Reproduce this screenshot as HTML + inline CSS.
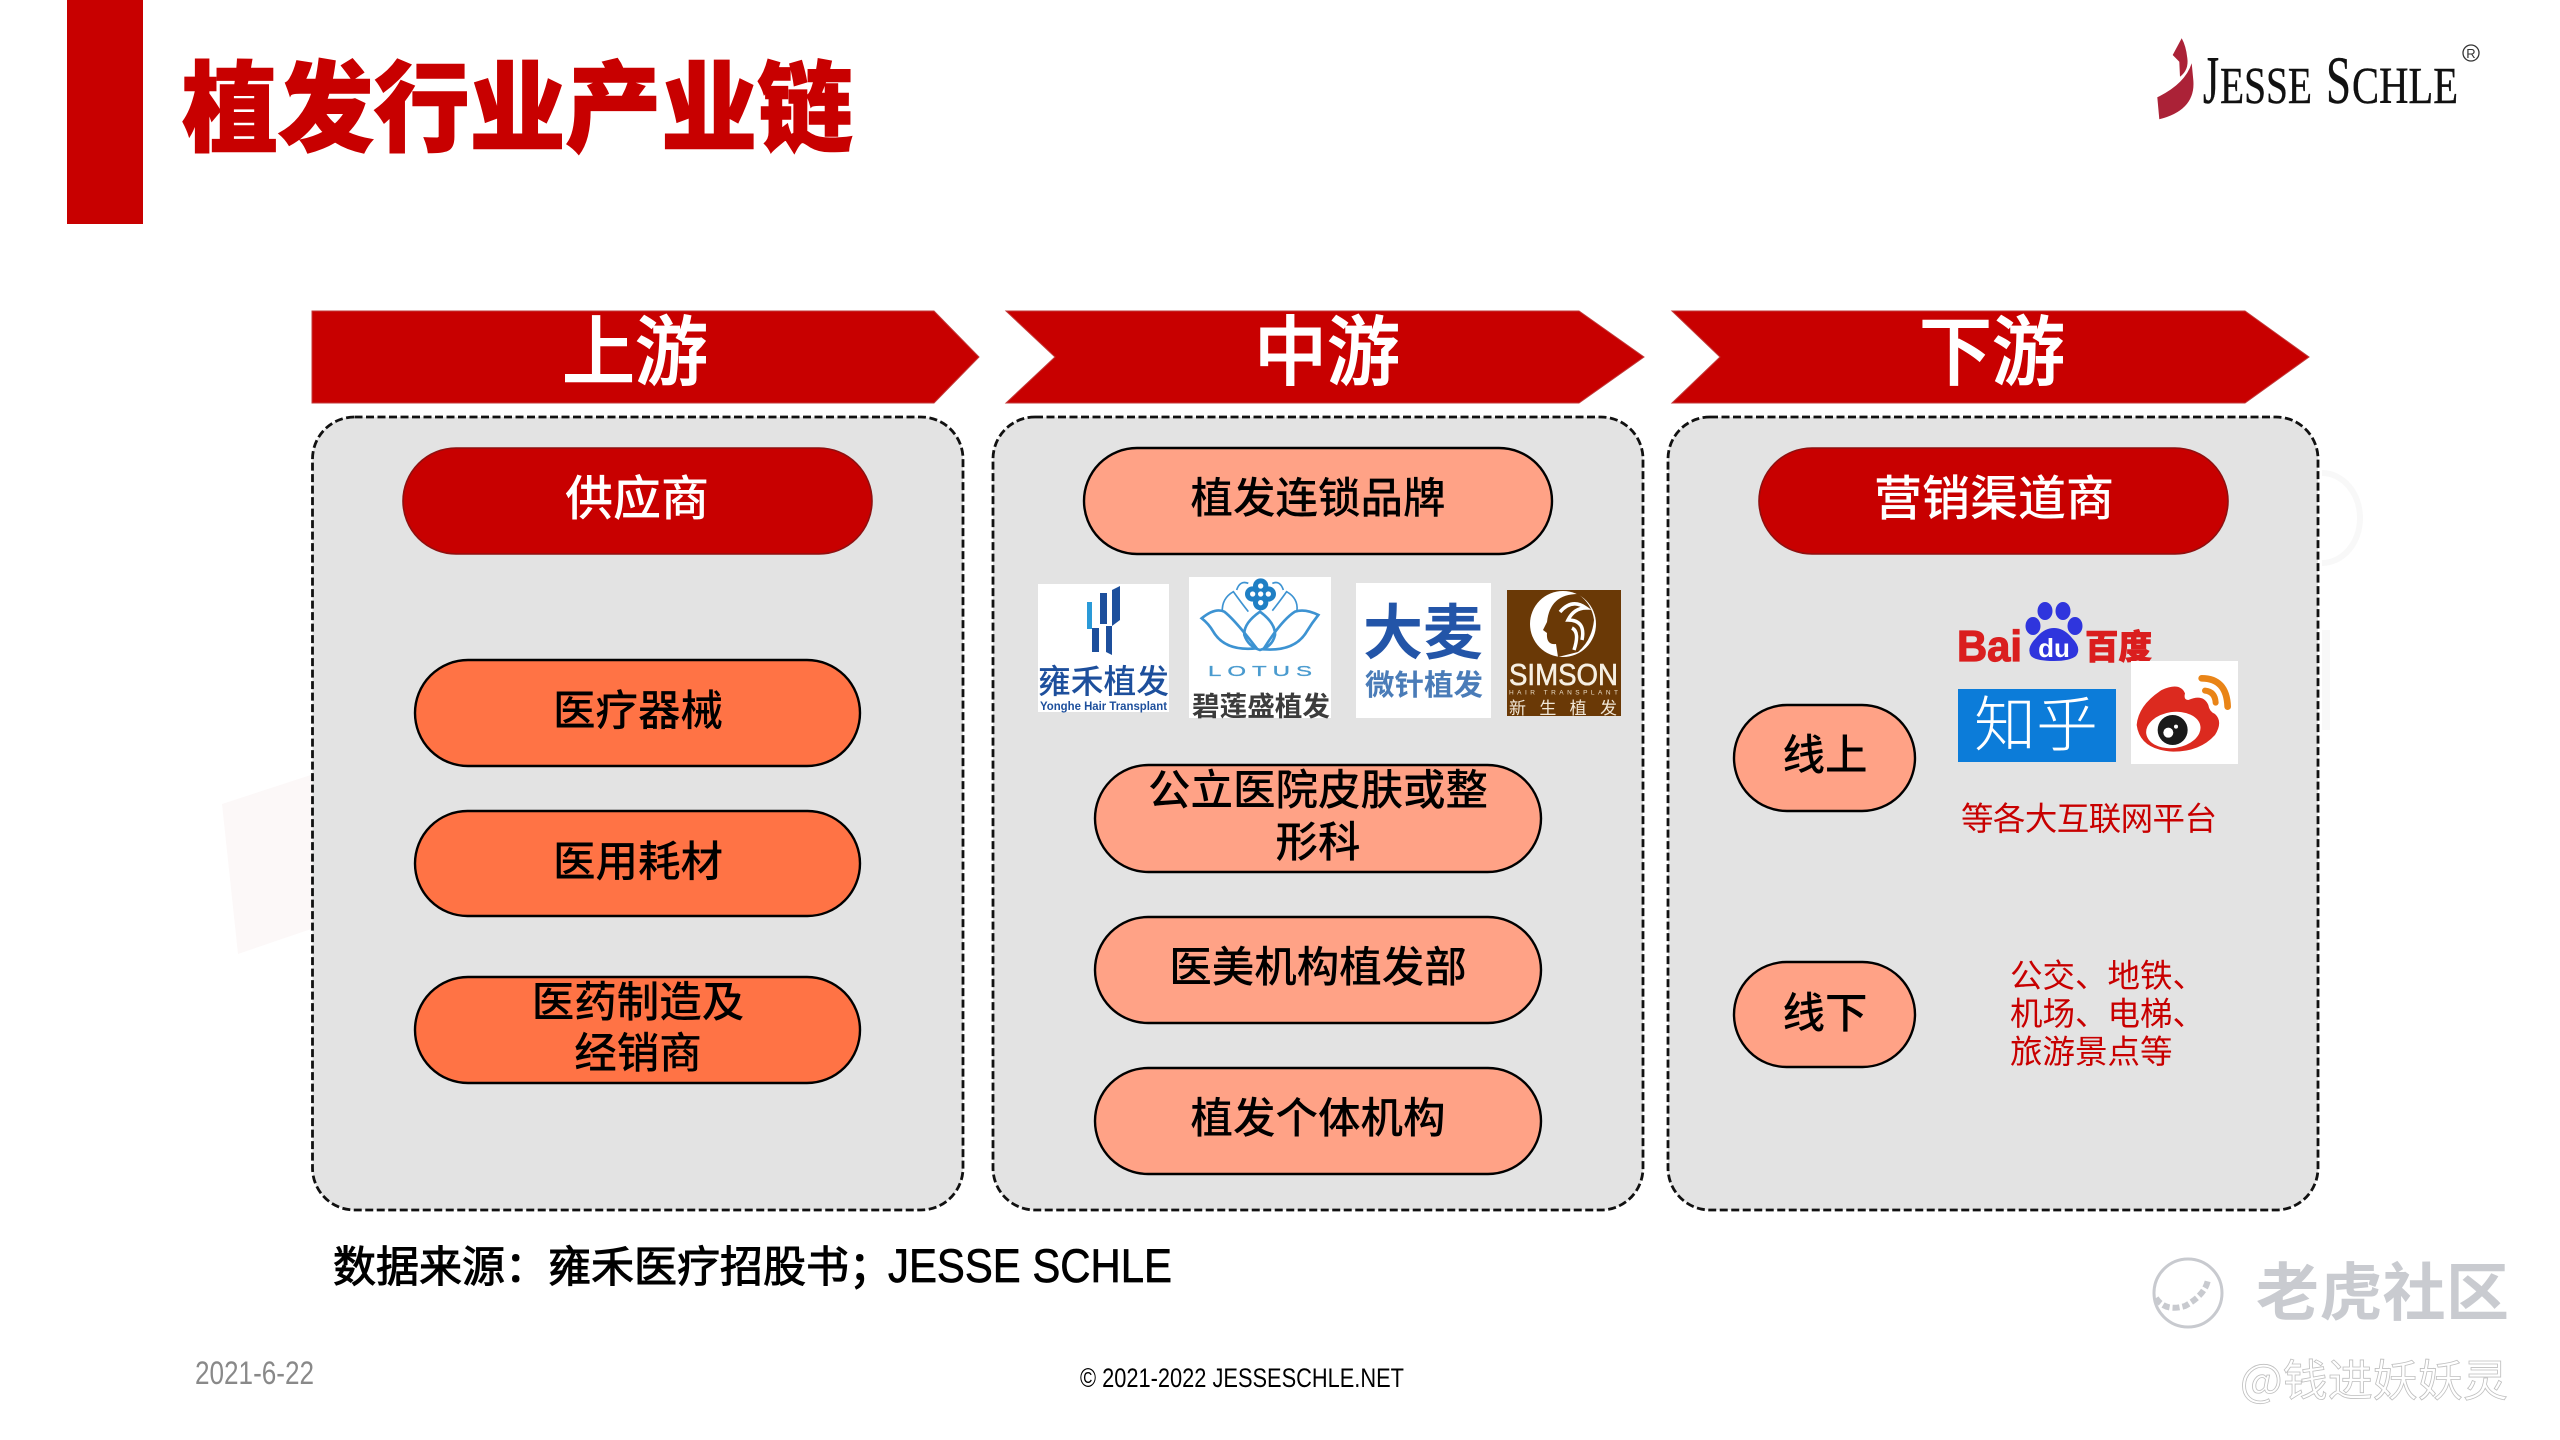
<!DOCTYPE html>
<html><head><meta charset="utf-8"><style>
html,body{margin:0;padding:0;background:#fff;width:2560px;height:1440px;overflow:hidden}
svg{display:block;font-family:"Liberation Sans","Noto Sans CJK SC",sans-serif}
.cj{font-family:"Noto Sans CJK SC",sans-serif}
.m{text-anchor:middle}
</style></head><body>
<svg width="2560" height="1440" viewBox="0 0 2560 1440" xmlns="http://www.w3.org/2000/svg">
<rect width="2560" height="1440" fill="#fff"/>
<!-- faint background -->
<polygon points="222,804 320,772 320,926 238,954" fill="#fcf8f8"/>
<path d="M2322 473a38 45 0 0 1 0 90" fill="none" stroke="#f8f8f8" stroke-width="6"/>
<rect x="2322" y="630" width="8" height="100" fill="#f8f8f8"/>
<!-- header -->
<rect x="67" y="0" width="76" height="224" fill="#c80000"/>
<text class="cj" x="182" y="143" font-size="98" font-weight="900" fill="#c80000" stroke="#c80000" stroke-width="1.500" textLength="671" lengthAdjust="spacingAndGlyphs">植发行业产业链</text>
<!-- logo -->
<g fill="#ab2237">
<path d="M2181.700 38.300L2172.700 55L2179.300 61.700L2180 76.700Q2189 70 2187.300 58Q2186 46 2181.700 38.300Z"/>
<path d="M2191.700 63.300Q2185 84 2157.300 97.300L2159.300 119.300Q2196 110 2193.300 80Z"/>
</g>
<g fill="#111" font-family="Liberation Serif" stroke="#111" stroke-width=".4">
<text x="2203" y="103" font-size="68" textLength="16" lengthAdjust="spacingAndGlyphs">J</text>
<text x="2220" y="103" font-size="52" textLength="92" lengthAdjust="spacingAndGlyphs">ESSE</text>
<text x="2326" y="103" font-size="68" textLength="25" lengthAdjust="spacingAndGlyphs">S</text>
<text x="2352" y="103" font-size="52" textLength="106" lengthAdjust="spacingAndGlyphs">CHLE</text>
</g>
<circle cx="2471" cy="53" r="8" fill="none" stroke="#333" stroke-width="1.300"/>
<text x="2471" y="58" class="m" font-size="13" fill="#333">R</text>
<!-- arrows -->
<g fill="#c80000" stroke="#c23a3a" stroke-width="1">
<polygon points="312,311 934,311 979,357 934,403 312,403"/>
<polygon points="1006,311 1579,311 1644,357 1579,403 1006,403 1055,357"/>
<polygon points="1672,311 2245,311 2309,357 2245,403 1672,403 1720,357"/>
</g>
<g class="cj" font-size="76" fill="#fff" font-weight="500" stroke="#fff" stroke-width="1">
<text class="m" x="635" y="379" textLength="146" lengthAdjust="spacingAndGlyphs">上游</text>
<text class="m" x="1327" y="379" textLength="146" lengthAdjust="spacingAndGlyphs">中游</text>
<text class="m" x="1992" y="379" textLength="146" lengthAdjust="spacingAndGlyphs">下游</text>
</g>
<!-- panels -->
<g fill="#e3e3e3" stroke="#111" stroke-width="2.800" stroke-dasharray="8 3.500">
<rect x="312.500" y="417" width="650.500" height="793" rx="42"/>
<rect x="993" y="417" width="650" height="793" rx="42"/>
<rect x="1668" y="417" width="650" height="793" rx="42"/>
</g>
<!-- pills -->
<g fill="#c80000" stroke="#8f1010" stroke-width="1.600">
<rect x="403" y="448" width="469" height="106" rx="53"/>
<rect x="1759" y="448" width="469" height="106" rx="53"/>
</g>
<g fill="#ff7345" stroke="#000" stroke-width="2.400">
<rect x="415" y="660" width="445" height="106" rx="53"/>
<rect x="415" y="811" width="445" height="105" rx="52.500"/>
<rect x="415" y="977" width="445" height="106" rx="53"/>
</g>
<g fill="#ffa286" stroke="#000" stroke-width="2.400">
<rect x="1084" y="448" width="468" height="106" rx="53"/>
<rect x="1095" y="765" width="446" height="107" rx="53.500"/>
<rect x="1095" y="917" width="446" height="106" rx="53"/>
<rect x="1095" y="1068" width="446" height="106" rx="53"/>
<rect x="1734" y="705" width="181" height="106" rx="53"/>
<rect x="1734" y="962" width="181" height="105" rx="52.500"/>
</g>
<!-- pill text -->
<g class="cj" fill="#fff" font-size="48" font-weight="500">
<text class="m" x="637" y="515">供应商</text>
<text class="m" x="1994" y="515">营销渠道商</text>
</g>
<g class="cj" fill="#000" font-size="42.500" font-weight="500">
<text class="m" x="638" y="725.500">医疗器械</text>
<text class="m" x="638" y="876.500">医用耗材</text>
<text class="m" x="638" y="1017">医药制造及</text>
<text class="m" x="638" y="1068">经销商</text>
<text class="m" x="1318" y="513">植发连锁品牌</text>
<text class="m" x="1318" y="805">公立医院皮肤或整</text>
<text class="m" x="1318" y="857">形科</text>
<text class="m" x="1318" y="982">医美机构植发部</text>
<text class="m" x="1318" y="1133">植发个体机构</text>
<text class="m" x="1825" y="770">线上</text>
<text class="m" x="1825" y="1028">线下</text>
</g>
<!-- Yonghe -->
<rect x="1038" y="584" width="131" height="128" fill="#fff"/>
<rect x="1087" y="602" width="5" height="27" fill="#2a9ad8"/>
<rect x="1100" y="593" width="7" height="31" fill="#1d4f9c"/>
<polygon points="1112,590 1120,586 1120,620 1112,626" fill="#1d4f9c"/>
<rect x="1092" y="628" width="7" height="24" fill="#1d4f9c"/>
<polygon points="1106,626 1112,626 1112,655 1106,652" fill="#1d4f9c"/>
<text class="cj" x="1038" y="693" font-size="33" font-weight="500" fill="#1d4f9c" textLength="131" lengthAdjust="spacingAndGlyphs">雍禾植发</text>
<text x="1040" y="710" font-size="11.500" font-weight="bold" fill="#1d4f9c" textLength="127" lengthAdjust="spacingAndGlyphs">Yonghe Hair Transplant</text>
<!-- Lotus -->
<rect x="1189" y="577" width="142" height="141" fill="#fff"/>
<g transform="translate(1185,570) scale(.3333)">
<g fill="none" stroke="#3d93d2" stroke-width="5">
<path d="M50 145Q90 112 118 125Q150 150 215 235Q120 245 85 185Q70 160 50 145Z" stroke-width="8"/>
<path d="M400 135Q360 115 330 125Q290 150 235 238Q330 245 365 185Q380 160 400 135Z" stroke-width="8"/>
<path d="M225 125Q175 160 178 195Q190 230 225 240Q262 230 270 195Q272 160 225 125Z" stroke-width="8"/>
<path d="M112 125Q110 85 145 65Q170 100 190 125"/>
<path d="M336 122Q340 85 305 65Q280 100 262 122"/>
<path d="M155 60Q165 30 190 40M295 60Q285 30 262 40"/>
</g>
<circle cx="203" cy="72" r="23" fill="#1f7fc4"/><circle cx="250" cy="72" r="23" fill="#1f7fc4"/>
<circle cx="227" cy="48" r="23" fill="#1f7fc4"/><circle cx="227" cy="98" r="23" fill="#1f7fc4"/>
<g fill="#fff"><circle cx="203" cy="72" r="8"/><circle cx="250" cy="72" r="8"/><circle cx="227" cy="48" r="8"/><circle cx="227" cy="98" r="8"/><circle cx="227" cy="72" r="8"/></g>
</g>
<g font-size="15" fill="#4a9bcf" stroke="#4a9bcf" stroke-width=".3">
<text transform="translate(1208,676) scale(1.6,1)" x="0" y="0" textLength="65" lengthAdjust="spacing">LOTUS</text>
</g>
<text class="cj" x="1192" y="716" font-size="27" font-weight="700" fill="#3c3c3c" textLength="138" lengthAdjust="spacingAndGlyphs">碧莲盛植发</text>
<!-- Damai -->
<rect x="1356" y="583" width="135" height="135" fill="#fff"/>
<text class="cj" x="1363" y="654" font-size="60" font-weight="700" fill="#2355a8" textLength="120" lengthAdjust="spacingAndGlyphs">大麦</text>
<text class="cj" x="1365" y="695" font-size="29" font-weight="700" fill="#4a7cb8" textLength="118" lengthAdjust="spacingAndGlyphs">微针植发</text>
<!-- Simson -->
<rect x="1507" y="590" width="114" height="126" fill="#6a3906"/>
<ellipse cx="1563" cy="624" rx="33" ry="33" fill="#fff"/>
<path d="M1578 594Q1550 594 1547 622L1543 630L1547 633Q1546 645 1556 644L1558 657L1578 652Q1592 640 1594 620Q1592 604 1578 594Z" fill="#6a3906"/>
<path d="M1560 612Q1572 598 1586 608Q1574 608 1568 620Q1586 620 1582 640M1572 628Q1580 632 1574 650" fill="none" stroke="#fff" stroke-width="3.500"/>
<text x="1509" y="685" font-size="31" fill="#f6efe2" stroke="#f6efe2" stroke-width=".6" textLength="109" lengthAdjust="spacingAndGlyphs">SIMSON</text>
<text x="1509" y="694.500" font-size="6.500" fill="#e9dcc7" textLength="109" lengthAdjust="spacing">HAIR TRANSPLANT</text>
<text class="cj" x="1509" y="714" font-size="17" fill="#f1e8d8" textLength="108" lengthAdjust="spacing">新生植发</text>
<!-- Baidu -->
<text x="1957" y="661" font-size="44" font-weight="bold" fill="#da1e1e" stroke="#da1e1e" stroke-width="1.200" textLength="65" lengthAdjust="spacingAndGlyphs">Bai</text>
<g fill="#2f35dd">
<ellipse cx="2045" cy="611" rx="7.500" ry="9"/><ellipse cx="2063" cy="611" rx="7.500" ry="9"/>
<ellipse cx="2033" cy="626" rx="7.500" ry="9"/><ellipse cx="2075" cy="626" rx="7.500" ry="9"/>
<path d="M2054 628Q2064 628 2072 638Q2082 648 2076 656Q2070 661 2054 661Q2036 661 2031 656Q2026 648 2036 638Q2044 628 2054 628Z"/>
</g>
<text class="m" x="2054" y="657" font-size="26" font-weight="bold" fill="#fff">du</text>
<text class="cj" x="2085" y="659" font-size="34" font-weight="900" fill="#da1e1e" stroke="#da1e1e" stroke-width=".8" textLength="67" lengthAdjust="spacingAndGlyphs">百度</text>
<!-- Zhihu -->
<rect x="1958" y="689" width="158" height="73" fill="#0c7cd9"/>
<text class="cj" x="1974" y="746" font-size="60" font-weight="300" fill="#fff" textLength="124" lengthAdjust="spacingAndGlyphs">知乎</text>
<!-- Weibo -->
<rect x="2131" y="661" width="107" height="103" fill="#fff"/>
<g transform="translate(2120,650) scale(.3333)">
<path d="M50 225Q55 165 125 120Q180 95 195 130Q190 150 205 150Q250 130 265 165Q268 185 285 192Q310 215 285 255Q240 305 160 305Q60 300 50 225Z" fill="#dc2a1f"/>
<ellipse cx="160" cy="240" rx="82" ry="54" transform="rotate(-8 160 240)" fill="#fff"/>
<circle cx="158" cy="240" r="45" fill="#1a1a1a"/>
<circle cx="145" cy="248" r="15" fill="#fff"/><circle cx="168" cy="230" r="6" fill="#fff"/>
<g fill="none" stroke="#e98417" stroke-linecap="round">
<path d="M245 85Q320 85 323 170" stroke-width="20"/>
<path d="M255 122Q285 125 287 158" stroke-width="18"/>
</g>
</g>
<!-- red text -->
<g class="cj" font-size="32.500" fill="#c80000">
<text x="1961" y="830" textLength="256" lengthAdjust="spacing">等各大互联网平台</text>
<text x="2010" y="987">公交、地铁、</text>
<text x="2010" y="1025">机场、电梯、</text>
<text x="2010" y="1063">旅游景点等</text>
</g>
<!-- source -->
<text x="333" y="1282" font-size="43" fill="#000" stroke="#000" stroke-width="1" class="cj">数据来源：雍禾医疗招股书；</text>
<text x="888" y="1282" font-size="47" fill="#000" stroke="#000" stroke-width=".7" textLength="284" lengthAdjust="spacingAndGlyphs" font-family="Liberation Sans">JESSE SCHLE</text>
<text x="195" y="1384" font-size="32" fill="#898989" textLength="119" lengthAdjust="spacingAndGlyphs">2021-6-22</text>
<text x="1080" y="1387" font-size="27" fill="#000" textLength="324" lengthAdjust="spacingAndGlyphs">© 2021-2022 JESSESCHLE.NET</text>
<!-- watermark -->
<circle cx="2188" cy="1293" r="34" fill="none" stroke="#c8cacf" stroke-width="3"/>
<path d="M2156 1298Q2165 1312 2185 1306Q2205 1295 2208 1280" fill="none" stroke="#c8cacf" stroke-width="6" stroke-dasharray="7 3"/>
<text class="cj" x="2256" y="1315" font-size="63" font-weight="700" fill="#c9cbd0" textLength="253" lengthAdjust="spacing">老虎社区</text>
<text class="cj" x="2240" y="1396" font-size="44" fill="#fff" stroke="#bfbfbf" stroke-width=".8" textLength="268" lengthAdjust="spacingAndGlyphs">@钱进妖妖灵</text>
</svg>
</body></html>
